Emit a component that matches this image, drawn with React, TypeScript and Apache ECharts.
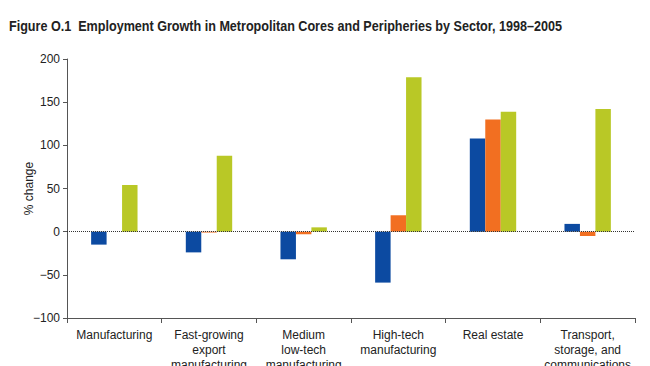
import React, { useEffect, useRef } from "react";
import * as echarts from "echarts";

const categories = [
  "Manufacturing",
  "Fast-growing\nexport\nmanufacturing",
  "Medium\nlow-tech\nmanufacturing",
  "High-tech\nmanufacturing",
  "Real estate",
  "Transport,\nstorage, and\ncommunications",
];
const seriesA = [-15, -24, -32, -59, 108, 9];
const seriesB = [0, -1, -3, 19, 130, -5];
const seriesC = [54, 88, 5, 179, 139, 142];
const colors = ["#0c4aa1", "#f26f21", "#b9c826"];
const titleText =
  "Figure O.1  Employment Growth in Metropolitan Cores and Peripheries by Sector, 1998\u20132005";

const FONT = "'Liberation Sans', Arial, sans-serif";

export default function App() {
  const ref = useRef<HTMLDivElement>(null);
  useEffect(() => {
    if (!ref.current) return;
    const chart = echarts.init(ref.current, null, { renderer: "svg" });
    const mk = (data: number[], i: number, extra: any = {}) => ({
      type: "bar",
      data,
      barGap: "0%",
      barCategoryGap: "51%",
      itemStyle: { color: colors[i] },
      ...extra,
    });
    chart.setOption({
      animation: false,
      textStyle: { fontFamily: FONT },
      graphic: [
        {
          type: "text",
          left: 9,
          top: 19,
          scaleX: 0.9,
          style: {
            text: titleText,
            fontFamily: FONT,
            fontWeight: "bold",
            fontSize: 14,
            fill: "#222",
          },
        },
      ],
      grid: {
        left: 67,
        right: 15,
        top: 59,
        bottom: 48,
        containLabel: false,
        outerBoundsMode: "none",
      },
      xAxis: {
        type: "category",
        data: categories,
        axisLine: { onZero: false, lineStyle: { color: "#555", width: 1 } },
        axisTick: { show: true, length: 5, lineStyle: { color: "#555" } },
        axisLabel: {
          color: "#222",
          fontSize: 12,
          fontFamily: FONT,
          margin: 9,
          lineHeight: 15,
          interval: 0,
        },
      },
      yAxis: {
        type: "value",
        min: -100,
        max: 200,
        interval: 50,
        name: "% change",
        nameLocation: "middle",
        nameGap: 32,
        nameMoveOverlap: false,
        nameRotate: 90,
        nameTextStyle: { color: "#222", fontSize: 12, fontFamily: FONT },
        axisLine: { show: true, lineStyle: { color: "#555", width: 1 } },
        axisTick: { show: true, length: 4, lineStyle: { color: "#555" } },
        splitLine: { show: false },
        axisLabel: {
          color: "#222",
          fontSize: 12,
          fontFamily: FONT,
          margin: 7,
          formatter: (v: number) => String(v).replace("-", "\u2212"),
        },
      },
      series: [
        mk(seriesA, 0, {
          markLine: {
            silent: true,
            symbol: "none",
            label: { show: false },
            lineStyle: { type: "dotted", color: "#333", width: 1 },
            data: [{ yAxis: 0 }],
          },
        }),
        mk(seriesB, 1),
        mk(seriesC, 2),
      ],
    });
    return () => chart.dispose();
  }, []);
  return (
    <div
      ref={ref}
      style={{ position: "absolute", left: 0, top: 0, width: 650, height: 366 }}
    />
  );
}
